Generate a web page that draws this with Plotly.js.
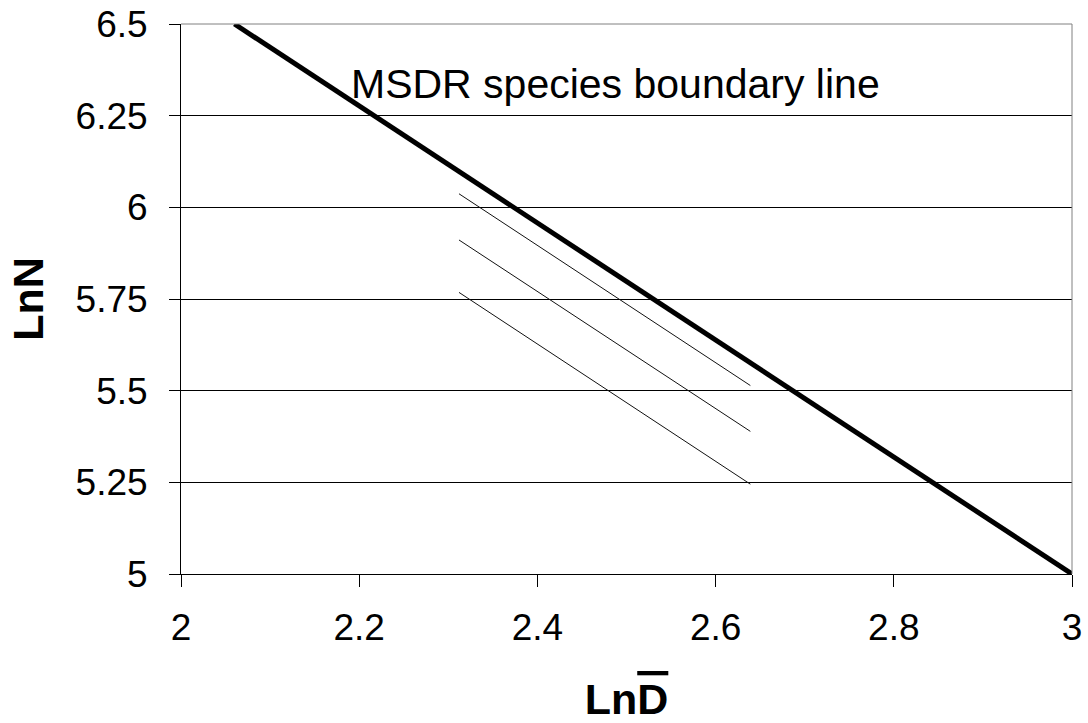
<!DOCTYPE html>
<html>
<head>
<meta charset="utf-8">
<script src="https://cdn.plot.ly/plotly-3.0.1.min.js"></script>
<style>html,body{margin:0;padding:0;background:#fff;}#chart{width:1088px;height:723px;}</style>
</head>
<body>
<div id="chart"></div>
<script>
// Boundary line (MSDR species boundary)
const boundaryX = [2.06, 3.0];
const boundaryY = [6.5, 5.0];
// Three thin self-thinning lines
const line1X = [2.312, 2.639];
const line1Y = [6.037, 5.514];
const line2X = [2.312, 2.639];
const line2Y = [5.911, 5.389];
const line3X = [2.312, 2.639];
const line3Y = [5.768, 5.245];
const xTicks = [2, 2.2, 2.4, 2.6, 2.8, 3];
const yTicks = [5, 5.25, 5.5, 5.75, 6, 6.25, 6.5];
const annText = "MSDR species boundary line";

const FONT = "Liberation Sans, Arial, sans-serif";

const traces = [
  {x: boundaryX, y: boundaryY, mode: 'lines', line: {color: '#000', width: 5}, hoverinfo: 'skip'},
  {x: line1X, y: line1Y, mode: 'lines', line: {color: '#111', width: 1}, hoverinfo: 'skip'},
  {x: line2X, y: line2Y, mode: 'lines', line: {color: '#111', width: 1}, hoverinfo: 'skip'},
  {x: line3X, y: line3Y, mode: 'lines', line: {color: '#111', width: 1}, hoverinfo: 'skip'}
];

const layout = {
  width: 1088, height: 723,
  margin: {l: 181, r: 16, t: 24, b: 149},
  paper_bgcolor: '#fff', plot_bgcolor: '#fff',
  showlegend: false,
  font: {family: FONT, color: '#000', size: 37},
  xaxis: {
    range: [2, 3], tickvals: xTicks, ticktext: xTicks.map(v => String(v)),
    showgrid: false, zeroline: false,
    showline: true, linecolor: '#000', linewidth: 1,
    ticks: 'outside', ticklen: 12, tickcolor: '#000', tickwidth: 1,
    tickfont: {family: FONT, size: 37, color: '#000'},
    ticklabelstandoff: 9,
    title: {text: "<b>Ln<span style='text-decoration:overline'>D</span></b>", font: {family: FONT, size: 43, color: '#000'}, standoff: 36}
  },
  yaxis: {
    range: [5, 6.5], tickvals: yTicks, ticktext: yTicks.map(v => String(v)),
    showgrid: true, gridcolor: '#000', gridwidth: 1, zeroline: false,
    showline: true, linecolor: '#000', linewidth: 1,
    ticks: 'outside', ticklen: 11, tickcolor: '#000', tickwidth: 1,
    tickfont: {family: FONT, size: 37, color: '#000'},
    ticklabelstandoff: 14,
    title: {text: "<b>LnN</b>", font: {family: FONT, size: 43, color: '#000'}, standoff: 18}
  },
  shapes: [
    {type: 'line', xref: 'paper', yref: 'paper', x0: 0, x1: 1, y0: 1, y1: 1, line: {color: '#808080', width: 1}},
    {type: 'line', xref: 'paper', yref: 'paper', x0: 1, x1: 1, y0: 0, y1: 1, line: {color: '#808080', width: 1}}
  ],
  annotations: [
    {x: 2.488, y: 6.336, xref: 'x', yref: 'y', text: annText, showarrow: false,
     xanchor: 'center', yanchor: 'middle', font: {family: FONT, size: 41, color: '#000'}}
  ]
};

Plotly.newPlot('chart', traces, layout, {displayModeBar: false, staticPlot: true});
</script>
</body>
</html>
